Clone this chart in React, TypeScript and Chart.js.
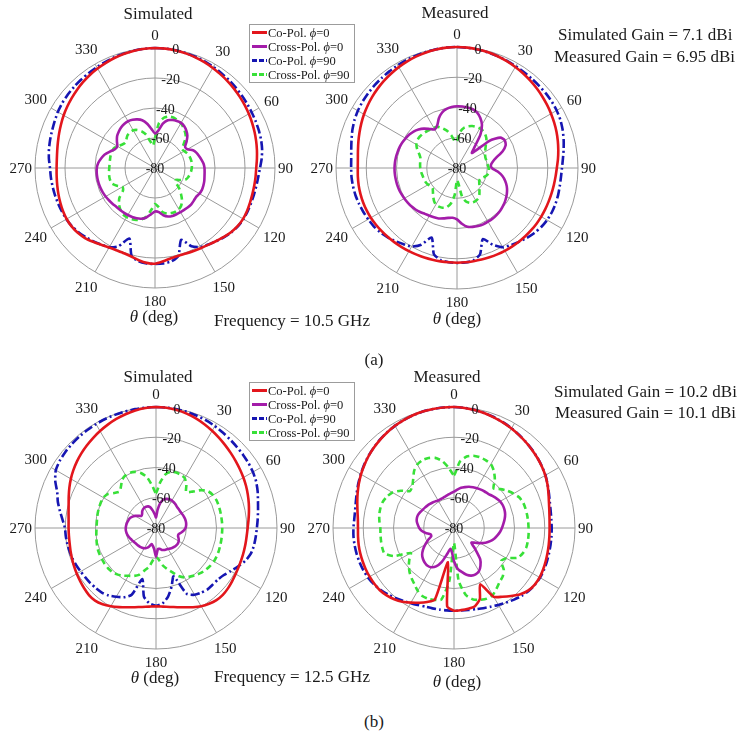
import React, { useEffect, useRef } from 'react';
import { Chart, registerables } from 'chart.js';

Chart.register(...registerables);

const FONT = '"Liberation Serif", "Times New Roman", serif';

// categories: theta in degrees, 5 degree steps
const THETA = Array.from({ length: 72 }, (_, i) => i * 5);
const ANGLE_TICKS = ['0', '30', '60', '90', '120', '150', '180', '210', '240', '270', '300', '330'];
const RADIAL_TICKS = [0, -20, -40, -60, -80];
const SERIES_NAMES = ['Co-Pol.', 'Cross-Pol.', 'Co-Pol.', 'Cross-Pol.'];
const SERIES_PHI = ['0', '0', '90', '90'];
const COLORS = ['#e3161c', '#a31ca9', '#1616b2', '#38e038'];
const DASHES = [[], [], [9, 3, 2, 3], [6, 4]];

// ---- (a) 10.5 GHz, simulated ----
const sim105Co0 = [
  0, -0.1, -0.4, -0.9, -1.5, -2.2, -3.0, -3.8, -4.6, -5.4, -6.2, -7.0, -7.8, -8.6, -9.4, -10.2, -11.0, -11.8,
  -12.5, -12.7, -12.8, -12.8, -12.6, -12.3, -12.2, -12.6, -13.6, -15.0, -16.5, -17.6, -18.4, -19.0, -19.4, -19.5, -18.9, -17.6,
  -16.2, -16.5, -17.6, -18.9, -19.5, -19.4, -18.8, -17.5, -15.8, -14.0, -12.8, -12.1, -12.0, -12.3, -12.8, -13.3, -13.8, -14.2,
  -14.4, -14.3, -13.8, -13.0, -12.0, -10.9, -9.7, -8.6, -7.5, -6.4, -5.3, -4.3, -3.4, -2.6, -1.8, -1.1, -0.6, -0.2,
];
const sim105Cross0 = [
  -57, -55, -50, -47, -46, -45.5, -45.3, -46, -47.5, -49.5, -52.5, -55.5, -55, -52, -50.5, -49.5, -48.5, -47.5,
  -47, -46.8, -46.5, -46, -45.7, -45.5, -45.8, -46.5, -46.2, -45.8, -45.8, -46, -46, -46, -46, -46.5, -48, -50.5,
  -51, -49, -46.5, -45, -44.3, -44, -43.8, -43.7, -43.6, -43.5, -43, -42.5, -42, -41.6, -41.3, -41.1, -41, -41,
  -41.2, -42, -43.5, -45.3, -48, -50.5, -51, -49, -47, -45.8, -44.8, -44.2, -44, -44.5, -45.5, -47, -50, -54,
];
const sim105Co90 = [
  0, -0.1, -0.3, -0.7, -1.1, -1.6, -2.2, -2.8, -3.4, -4.0, -4.6, -5.1, -5.6, -6.0, -6.4, -6.8, -7.5, -8.6,
  -10.0, -10.9, -11.4, -11.7, -11.8, -11.8, -11.9, -12.4, -13.4, -14.8, -16.4, -17.8, -19.2, -22.5, -29.0, -19.5, -16.8, -16.1,
  -16.0, -16.1, -16.8, -19.5, -30.0, -22.5, -19.0, -17.6, -16.2, -14.8, -13.4, -12.4, -11.8, -11.5, -11.2, -10.9, -10.6, -10.3,
  -10.0, -9.0, -8.2, -7.6, -7.0, -6.2, -5.2, -4.5, -4.0, -3.6, -3.2, -2.8, -2.4, -1.9, -1.4, -0.9, -0.5, -0.2,
];
const sim105Cross90 = [
  -60, -50, -46, -44.5, -44.2, -44.8, -45.5, -47, -48.8, -51, -55, -58, -57.5, -56.5, -55.8, -55.5, -55.3, -55.3,
  -55.5, -55.8, -56.3, -57, -58, -61, -64, -63, -59, -55.5, -52, -49.5, -48.2, -47.8, -48, -48.5, -50, -54,
  -56, -52, -47, -44.5, -43.2, -42.5, -42.2, -42.5, -44, -46, -49, -54, -55, -52, -49.5, -49, -49, -49.2,
  -49.5, -49.6, -49.5, -49.3, -49.3, -49.5, -51, -53, -54, -53, -51.5, -51, -51, -52, -54, -57, -62, -65,
];

// ---- (a) 10.5 GHz, measured ----
const meas105Co0 = [
  0, -0.1, -0.4, -0.8, -1.4, -2.1, -2.9, -3.7, -4.6, -5.5, -6.4, -7.3, -8.2, -9.1, -10.0, -11.0, -12.0, -13.0,
  -14.0, -14.6, -15.0, -15.3, -15.5, -15.6, -15.7, -15.8, -16.0, -16.2, -16.4, -16.6, -16.8, -17.0, -17.2, -17.3, -17.4, -17.4,
  -17.4, -17.4, -17.3, -17.2, -17.0, -16.8, -16.5, -16.2, -15.8, -15.4, -15.0, -14.6, -14.2, -14.0, -13.9, -13.9, -14.0, -14.2,
  -14.4, -14.2, -13.5, -12.5, -11.4, -10.2, -9.0, -7.9, -6.8, -5.8, -4.8, -3.9, -3.0, -2.2, -1.5, -0.9, -0.4, -0.1,
];
const meas105Cross0 = [
  -39.2, -39.2, -39.4, -39.8, -41, -43.5, -47, -53, -62, -66, -52, -45, -43.5, -44.5, -48, -53, -56, -57.5,
  -57, -53, -49.5, -47, -45, -43.5, -42.3, -41.3, -40.5, -39.8, -39.4, -39.1, -39, -38.9, -39.2, -39.7, -40.5, -43,
  -46, -47, -46.5, -45.5, -44.5, -44, -43.6, -43, -42, -41.2, -40.6, -40.2, -39.8, -39.4, -39.1, -38.9, -38.8, -38.7,
  -38.7, -38.8, -39, -39.3, -39.6, -40.1, -40.8, -41.5, -42.5, -44, -46, -48.5, -50.5, -49, -45, -42, -40.3, -39.5,
];
const meas105Co90 = [
  0, -0.2, -0.5, -0.9, -1.3, -1.8, -2.3, -2.7, -3.0, -3.2, -3.3, -3.5, -3.9, -4.6, -5.7, -7.0, -8.4, -9.7,
  -10.6, -11.0, -11.0, -10.8, -10.7, -10.8, -11.2, -12.0, -13.2, -14.7, -16.3, -17.8, -19.5, -24, -30, -21, -18, -17.3,
  -17.2, -17.4, -18.2, -21, -31, -24, -20, -18.5, -16.8, -15.2, -13.8, -12.8, -12.2, -11.6, -11.0, -10.5, -10.2, -10.0,
  -10.0, -9.8, -9.0, -7.8, -6.4, -5.2, -4.3, -3.7, -3.2, -2.8, -2.4, -2.0, -1.6, -1.2, -0.9, -0.6, -0.3, -0.1,
];
const meas105Cross90 = [
  -62, -56, -53, -51.5, -50.5, -50, -49.8, -50, -51, -52.5, -55, -57, -58.5, -59.5, -60, -60, -60, -59.5,
  -59, -58.8, -59, -60, -61.5, -63, -63, -62, -60.5, -59, -57, -55.5, -55, -55, -55.5, -57, -61, -70,
  -72, -62, -56, -53, -52, -51.8, -52, -53.5, -55.5, -57.5, -59, -59, -58, -57.3, -57, -56.8, -56.5, -56,
  -55.7, -55.5, -55.3, -55, -53.5, -51, -49, -48, -47.8, -48, -48.5, -49, -49.3, -50, -52, -54.5, -58, -62,
];

// ---- (b) 12.5 GHz, simulated ----
const sim125Co0 = [
  0, -0.2, -0.8, -1.7, -2.9, -4.3, -5.8, -7.3, -8.7, -10.0, -11.2, -12.3, -13.3, -14.3, -15.4, -16.5, -17.6, -18.6,
  -19.4, -19.8, -19.9, -19.9, -19.8, -19.6, -19.2, -18.6, -17.9, -17.5, -17.8, -18.8, -20.2, -22.2, -24.2, -25.8, -27.0, -27.8,
  -28.2, -27.8, -27.0, -25.8, -24.2, -22.3, -20.3, -18.5, -17.3, -17.3, -18.0, -18.8, -19.5, -20.2, -20.9, -21.5, -22.0, -22.2,
  -22.2, -22.0, -21.3, -20.2, -18.6, -16.8, -15.0, -13.3, -11.7, -10.2, -8.8, -7.4, -6.0, -4.6, -3.3, -2.1, -1.1, -0.4,
];
const sim125Cross0 = [
  -73, -68, -63, -60.5, -59.5, -59, -59, -59.3, -59.8, -60.3, -60.5, -60.6, -60.5, -60.2, -60, -59.8, -59.8, -60,
  -60.5, -61.5, -63, -64.5, -64.5, -63.5, -62.7, -62.3, -62.3, -62.5, -63, -63.5, -64, -64.3, -64.5, -65, -66, -66,
  -61, -66, -68, -69, -67, -65.5, -64.5, -64, -63.7, -63.5, -63.3, -63, -62.5, -62, -61.3, -60.7, -60.3, -60,
  -60, -60.2, -60.5, -61, -61.5, -62.5, -64, -66, -67.5, -67, -65.8, -65, -64.6, -64.5, -64.8, -66, -68.5, -71,
];
const sim125Co90 = [
  0, -0.1, -0.3, -0.6, -1.0, -1.5, -2.2, -3.0, -3.7, -4.3, -4.8, -5.3, -6.0, -7.0, -8.5, -10.2, -11.5, -12.5,
  -13.3, -13.8, -14.2, -15.0, -17.0, -20.0, -23.0, -25.5, -26.8, -27.0, -27.0, -27.8, -29.0, -32, -46, -40, -34, -30,
  -28.5, -30, -34, -45, -33, -29.5, -27.5, -25.5, -24.3, -23.8, -23.3, -23, -22.5, -21.8, -21.2, -20.8, -20.4, -20.1,
  -19.8, -18, -15.5, -12.8, -10.5, -6.5, -3.5, -2.4, -1.8, -1.4, -1.1, -0.9, -0.7, -0.5, -0.4, -0.3, -0.2, -0.1,
];
const sim125Cross90 = [
  -57, -50, -44, -41.5, -41, -41.2, -42, -45, -49, -46, -41, -37.8, -36.5, -36, -36, -36.1, -36.2, -36.2,
  -36.2, -36.2, -36.1, -36, -35.8, -35.7, -35.8, -36.3, -37, -38, -39.3, -40.8, -42.3, -45, -49, -52, -55, -59,
  -61, -59, -54, -51, -47, -45, -43.5, -41.5, -40, -39, -38.6, -38.6, -38.7, -38.8, -39, -39.5, -40, -40.4,
  -40.7, -40.7, -40.5, -40.2, -40, -39.8, -39.8, -41, -44, -46, -44, -41, -39.8, -39.6, -40.5, -42.5, -46, -52,
];

// ---- (b) 12.5 GHz, measured ----
const meas125Co0 = [
  0, -0.3, -0.8, -1.5, -2.3, -3.1, -4.0, -5.0, -6.0, -7.0, -8.0, -9.1, -10.3, -11.8, -13.5, -15.0, -16.0, -16.6,
  -16.8, -16.7, -16.4, -16.0, -15.5, -15.0, -14.6, -14.8, -15.8, -18.0, -21.3, -24.5, -27.5, -39, -30, -26.5, -25.8, -25.5,
  -25.3, -28, -57, -31, -28, -25.5, -23, -20.5, -18.5, -17, -16, -15.7, -15.6, -15.6, -15.7, -15.8, -16.0, -16.3,
  -16.5, -16.2, -15.2, -13.8, -12.2, -10.6, -9.0, -7.6, -6.2, -5.0, -3.9, -2.9, -2.0, -1.3, -0.7, -0.3, -0.1, 0,
];
const meas125Cross0 = [
  -56, -54.5, -53, -52, -51, -50.3, -49.6, -49, -48.5, -48, -47, -45.8, -44.8, -44.4, -44.5, -45, -46, -47.2,
  -48.3, -49.5, -51, -52.5, -54.5, -57, -60, -63, -65, -60, -53, -49.5, -47, -46.2, -46.5, -48, -50.5, -53,
  -58, -64, -66, -62, -56, -52, -50, -49.5, -50, -51, -52.5, -55, -58, -61, -64, -64, -61, -58.5,
  -57, -56, -55, -54.6, -54.7, -55.3, -56, -56.5, -57, -57.5, -58, -58.5, -59, -59, -58.8, -58.3, -57.6, -56.8,
];
const meas125Co90 = [
  0, -0.3, -0.8, -1.4, -2.1, -3.0, -3.9, -4.9, -5.9, -6.9, -7.9, -9.0, -10.2, -11.7, -13.2, -14.4, -15.1, -15.4,
  -15.4, -15.3, -15.2, -15.0, -14.7, -14.4, -14.3, -14.6, -15.4, -16.6, -18.2, -19.8, -21.3, -22.6, -23.6, -24.4, -24.9, -25.2,
  -25.3, -25.3, -25.2, -25.0, -24.6, -23.8, -22.6, -21.2, -19.6, -18.0, -16.5, -15.3, -14.4, -13.9, -13.6, -13.4, -13.3, -13.3,
  -13.5, -13.8, -13.6, -12.8, -11.6, -10.2, -8.8, -7.4, -6.1, -4.9, -3.8, -2.8, -2.0, -1.3, -0.7, -0.3, -0.1, 0,
];
const meas125Cross90 = [
  -45, -36, -32, -30.5, -30.2, -30.5, -31.2, -34, -38, -43, -40, -37, -34.5, -32.3, -31.3, -31, -30.9, -30.8,
  -30.7, -30.5, -30.4, -30.5, -31.5, -33.5, -40, -42, -37, -34.5, -33.2, -31, -28.8, -28.5, -29.5, -31, -35, -45,
  -70, -45, -32, -30.8, -30.2, -30.4, -32, -34.5, -36.5, -38.5, -41, -44, -47, -36, -31, -30.8, -31, -31.2,
  -31.3, -30.5, -29.8, -29.6, -29.8, -31, -33, -37, -42, -41, -38, -34, -31.5, -30.5, -30.8, -32, -35, -40,
];

const polarLabels = {
  id: 'polarLabels',
  afterDatasetsDraw(chart: any) {
    const s = chart.scales.r;
    const ctx = chart.ctx;
    const R = s.drawingArea;
    ctx.save();
    ctx.fillStyle = '#1a1a1a';
    ctx.textAlign = 'center';
    ctx.textBaseline = 'middle';
    ctx.font = `15px ${FONT}`;
    ANGLE_TICKS.forEach((lab, k) => {
      const idx = k * 6;
      const th = s.getIndexAngle(idx);
      const w = ctx.measureText(lab).width;
      const d = R + 3 + Math.abs(Math.sin(th)) * (w / 2) + Math.abs(Math.cos(th)) * 10;
      const p = s.getPointPosition(idx, d);
      ctx.fillText(lab, p.x, p.y + 1);
    });
    ctx.font = `14px ${FONT}`;
    const a = (10 * Math.PI) / 180;
    RADIAL_TICKS.forEach((v) => {
      const d = s.getDistanceFromCenterForValue(v);
      ctx.fillText(String(v), s.xCenter + Math.sin(a) * d, s.yCenter - Math.cos(a) * d + 1);
    });
    ctx.restore();
  },
};

const makeLegend = (bx: number, by: number) => ({
  id: 'seriesLegend',
  afterDraw(chart: any) {
    const ctx = chart.ctx;
    const bw = 105;
    const bh = 58;
    ctx.save();
    ctx.fillStyle = '#ffffff';
    ctx.fillRect(bx, by, bw, bh);
    ctx.strokeStyle = '#9c9c9c';
    ctx.lineWidth = 1;
    ctx.strokeRect(bx + 0.5, by + 0.5, bw, bh);
    chart.data.datasets.forEach((ds: any, i: number) => {
      const y = by + 8.5 + i * 14;
      ctx.strokeStyle = ds.borderColor;
      ctx.lineWidth = 3;
      ctx.setLineDash(ds.borderDash && ds.borderDash.length ? [5, 2] : []);
      ctx.beginPath();
      ctx.moveTo(bx + 3, y);
      ctx.lineTo(bx + 18, y);
      ctx.stroke();
      ctx.setLineDash([]);
      ctx.fillStyle = '#1a1a1a';
      ctx.textAlign = 'left';
      ctx.textBaseline = 'middle';
      let x = bx + 19;
      ctx.font = `12.5px ${FONT}`;
      const t1 = SERIES_NAMES[i] + ' ';
      ctx.fillText(t1, x, y + 1);
      x += ctx.measureText(t1).width;
      ctx.font = `italic 12.5px ${FONT}`;
      ctx.fillText('\u03D5', x, y + 1);
      x += ctx.measureText('\u03D5').width;
      ctx.font = `12.5px ${FONT}`;
      ctx.fillText('=' + SERIES_PHI[i], x, y + 1);
    });
    ctx.restore();
  },
});

type PlotProps = {
  left: number;
  top: number;
  width: number;
  height: number;
  cx: number;
  cy: number;
  R: number;
  series: number[][];
  legend?: [number, number];
};

function PolarPlot({ left, top, width, height, cx, cy, R, series, legend }: PlotProps) {
  const ref = useRef<HTMLCanvasElement | null>(null);
  useEffect(() => {
    const canvas = ref.current;
    if (!canvas) return;
    const plugins: any[] = [polarLabels];
    if (legend) plugins.push(makeLegend(legend[0], legend[1]));
    const chart = new Chart(canvas, {
      type: 'radar',
      data: {
        labels: THETA.map(String),
        datasets: series.map((d, i) => ({
          label: `${SERIES_NAMES[i]} \u03D5=${SERIES_PHI[i]}`,
          data: d,
          borderColor: COLORS[i],
          backgroundColor: COLORS[i],
          borderWidth: 2.6,
          borderDash: DASHES[i],
          pointRadius: 0,
          pointHoverRadius: 0,
          fill: false,
          tension: 0.2,
        })),
      },
      options: {
        responsive: false,
        animation: false,
        events: [],
        layout: {
          padding: { left: cx - R, top: cy - R, right: width - cx - R, bottom: height - cy - R },
        },
        plugins: {
          legend: { display: false },
          tooltip: { enabled: false },
          title: { display: false },
        },
        scales: {
          r: {
            min: -80,
            max: 0,
            startAngle: 0,
            ticks: { display: false, stepSize: 20 },
            grid: { circular: true, color: '#9a9a9a', lineWidth: 1 },
            angleLines: {
              display: true,
              color: (c: any) => (c.index % 6 === 0 ? '#9a9a9a' : 'rgba(0,0,0,0)'),
              lineWidth: (c: any) => (c.index % 6 === 0 ? 1 : 0),
            },
            pointLabels: { display: false },
          },
        },
      } as any,
      plugins,
    });
    return () => chart.destroy();
  }, []);
  return (
    <canvas
      ref={ref}
      width={width}
      height={height}
      style={{ position: 'absolute', left, top, width, height, display: 'block' }}
    />
  );
}

const TEXT: React.CSSProperties = {
  position: 'absolute',
  fontFamily: FONT,
  fontSize: 17,
  lineHeight: '20px',
  color: '#1a1a1a',
  whiteSpace: 'nowrap',
};

function Txt({ x, y, align = 'center', children }: { x: number; y: number; align?: string; children: any }) {
  const transform = align === 'center' ? 'translateX(-50%)' : align === 'right' ? 'translateX(-100%)' : 'none';
  return <div style={{ ...TEXT, left: x, top: y - 10, transform }}>{children}</div>;
}

const Theta = () => (
  <>
    <span style={{ fontStyle: 'italic' }}>θ</span> (deg)
  </>
);

export default function App() {
  return (
    <div style={{ position: 'absolute', left: 0, top: 0, width: 744, height: 736, background: '#fff', overflow: 'hidden' }}>
      <PolarPlot left={0} top={0} width={372} height={340} cx={155} cy={168} R={120}
        series={[sim105Co0, sim105Cross0, sim105Co90, sim105Cross90]} legend={[249, 24]} />
      <PolarPlot left={300} top={0} width={444} height={340} cx={157} cy={168} R={121}
        series={[meas105Co0, meas105Cross0, meas105Co90, meas105Cross90]} />
      <PolarPlot left={0} top={360} width={372} height={340} cx={156} cy={168} R={121}
        series={[sim125Co0, sim125Cross0, sim125Co90, sim125Cross90]} legend={[249, 22]} />
      <PolarPlot left={300} top={360} width={444} height={340} cx={154} cy={168} R={121}
        series={[meas125Co0, meas125Cross0, meas125Co90, meas125Cross90]} />

      <Txt x={158} y={14}>Simulated</Txt>
      <Txt x={455} y={13}>Measured</Txt>
      <Txt x={558} y={35} align="left">Simulated Gain = 7.1 dBi</Txt>
      <Txt x={554} y={57} align="left">Measured Gain = 6.95 dBi</Txt>
      <Txt x={154} y={317}><Theta /></Txt>
      <Txt x={457} y={319}><Theta /></Txt>
      <Txt x={214} y={321} align="left">Frequency = 10.5 GHz</Txt>
      <Txt x={374} y={360}>(a)</Txt>

      <Txt x={158} y={377}>Simulated</Txt>
      <Txt x={447} y={377}>Measured</Txt>
      <Txt x={554} y={392} align="left">Simulated Gain = 10.2 dBi</Txt>
      <Txt x={555} y={413} align="left">Measured Gain = 10.1 dBi</Txt>
      <Txt x={155} y={678}><Theta /></Txt>
      <Txt x={457} y={682}><Theta /></Txt>
      <Txt x={214} y={677} align="left">Frequency = 12.5 GHz</Txt>
      <Txt x={374} y={722}>(b)</Txt>
    </div>
  );
}
